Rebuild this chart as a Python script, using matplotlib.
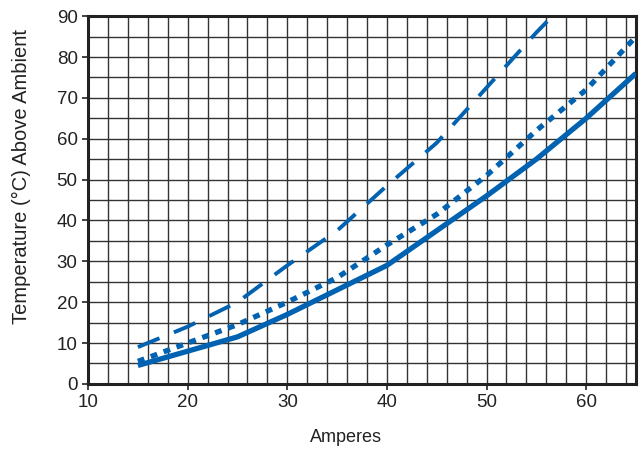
import matplotlib
matplotlib.use("Agg")
import matplotlib.pyplot as plt
import numpy as np

plt.rcParams['font.family'] = ['Liberation Sans', 'DejaVu Sans']

amps = [15, 20, 25, 30, 35, 40, 45, 50, 55, 60, 65]
solid_vals = [4.5, 8, 11.5, 17, 23, 29, 37.5, 46, 55, 65, 76]
dotted_vals = [5.5, 10, 14.5, 20, 26, 34, 41.5, 51, 62, 72, 85]
dash_amps = [15, 20, 25, 30, 35, 40, 45, 50, 55, 56.6]
dash_vals = [9, 14, 20, 29, 37.5, 48.5, 59, 72.5, 86, 90]

x_ticks = [10, 20, 30, 40, 50, 60]
y_ticks = [0, 10, 20, 30, 40, 50, 60, 70, 80, 90]

color = '#0062B1'

fig = plt.figure(figsize=(6.43, 4.5), dpi=100)
ax = fig.add_axes([0.137, 0.147, 0.852, 0.817])

ax.set_xlim(10, 65)
ax.set_ylim(0, 90)
ax.set_xticks(np.arange(10, 65, 2), minor=True)
ax.set_yticks(np.arange(0, 91, 5), minor=True)
ax.set_xticks(x_ticks)
ax.set_yticks(y_ticks)
ax.grid(True, which='both', color='#333333', linewidth=1.0)
ax.set_axisbelow(True)

ax.plot(amps, solid_vals, color=color, linewidth=3.8, solid_capstyle='butt', zorder=3)
ax.plot(amps, dotted_vals, color=color, linewidth=3.8, linestyle=(0, (1.3, 1.3)), dash_capstyle='butt', zorder=3)
ax.plot(dash_amps, dash_vals, color=color, linewidth=2.8, linestyle=(0, (6, 4)), zorder=3, clip_on=True)

for s in ax.spines.values():
    s.set_linewidth(2.2)
    s.set_color('#222222')

ax.tick_params(axis='both', which='major', labelsize=13.5, length=4, width=1.2, direction='out', colors='#222222')
ax.tick_params(axis='both', which='minor', length=0)
ax.set_xlabel('Amperes', fontsize=13, color='#222222')
ax.set_ylabel('Temperature (°C) Above Ambient', fontsize=14.5, color='#222222')
ax.xaxis.set_label_coords(0.471, -0.122)
ax.yaxis.set_label_coords(-0.104, 0.565)

fig.savefig('out.png', dpi=100)
